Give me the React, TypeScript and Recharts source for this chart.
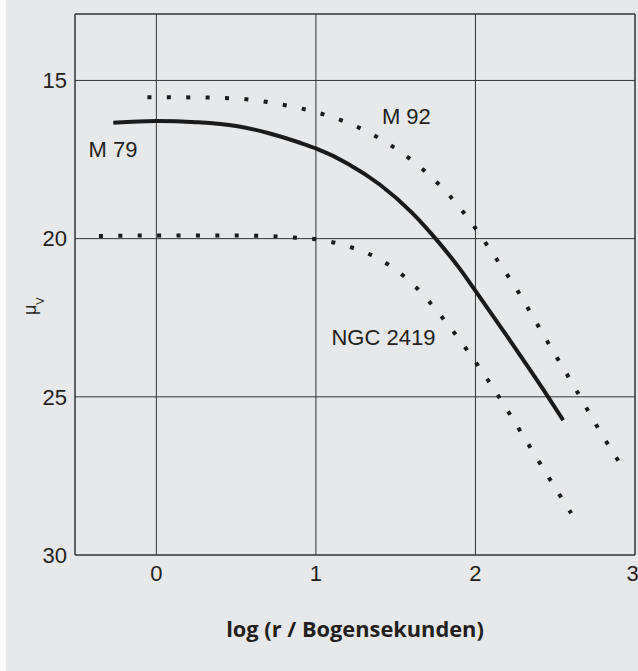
import React from "react";
import {
  LineChart,
  Line,
  XAxis,
  YAxis,
  CartesianGrid,
  ReferenceLine,
  ReferenceDot,
} from "recharts";

// log(r / arcsec) vs surface brightness mu_V
const m79X = [-0.27, 0, 0.25, 0.5, 0.7, 0.9, 1.0, 1.2, 1.4, 1.6, 1.75, 1.9, 2.0, 2.2, 2.45, 2.55];
const m79Y = [16.34, 16.28, 16.32, 16.44, 16.66, 16.97, 17.15, 17.63, 18.29, 19.17, 20.0, 20.94, 21.65, 23.1, 24.96, 25.74];

const m92X = [-0.056, 0.308, 0.551, 0.793, 1.026, 1.256, 1.469, 1.663, 1.836, 1.988, 2.126, 2.258, 2.384, 2.507, 2.633, 2.752, 2.895];
const m92Y = [15.53, 15.54, 15.59, 15.77, 16.04, 16.46, 17.05, 17.78, 18.63, 19.59, 20.6, 21.6, 22.68, 23.73, 24.8, 25.85, 27.02];

const ngcX = [-0.36, 0, 0.5, 0.85, 1.0, 1.218, 1.438, 1.628, 1.787, 1.936, 2.07, 2.202, 2.329, 2.457, 2.6];
const ngcY = [19.92, 19.9, 19.9, 19.96, 20.02, 20.27, 20.77, 21.54, 22.46, 23.44, 24.41, 25.44, 26.48, 27.53, 28.68];

const xTicks = [0, 1, 2, 3];
const yTicks = [15, 20, 25, 30];

const seriesLabels = ["M 79", "M 92", "NGC 2419"];
const labelX = [-0.272, 1.567, 1.423];
const labelY = [17.17, 16.13, 23.12];

const X_MIN = -0.51;
const X_MAX = 3;
const Y_MIN = 12.9;
const Y_MAX = 30;

const zip = (xs: number[], ys: number[]) => xs.map((x, i) => ({ x, y: ys[i] }));
const m79 = zip(m79X, m79Y);
const m92 = zip(m92X, m92Y);
const ngc = zip(ngcX, ngcY);

const INK = "#231f20";
const FONT = "'Liberation Sans', Arial, Helvetica, sans-serif";

const TextLabel = (props: any) => {
  const { viewBox, value } = props;
  const cx = viewBox.x + (viewBox.width || 0) / 2;
  const cy = viewBox.y + (viewBox.height || 0) / 2;
  return (
    <text
      x={cx}
      y={cy}
      textAnchor="middle"
      dominantBaseline="central"
      fontFamily={FONT}
      fontSize={22}
      fill={INK}
    >
      {value}
    </text>
  );
};

const YLabel = () => (
  <text transform="translate(30,315) rotate(-90)" fontFamily={FONT} fill={INK}>
    <tspan fontSize={18}>μ</tspan>
    <tspan fontSize={11} dy={8}>V</tspan>
  </text>
);

const XLabel = (props: any) => {
  const { viewBox } = props;
  const cx = viewBox.x + viewBox.width / 2;
  return (
    <text
      x={cx}
      y={637}
      textAnchor="middle"
      fontFamily="'Open Sans', 'Noto Sans', sans-serif"
      fontWeight={700}
      fontSize={21.8}
      fill={INK}
    >
      log (r / Bogensekunden)
    </text>
  );
};

export default function App() {
  return (
    <div
      style={{
        position: "absolute",
        left: 6,
        top: 0,
        width: 632,
        height: 671,
        background: "#e7e8ea",
      }}
    >
      <LineChart
        width={632}
        height={671}
        margin={{ top: 14, right: 3, bottom: 0, left: 9 }}
      >
        <CartesianGrid stroke="#333" strokeWidth={1} />
        <XAxis
          type="number"
          dataKey="x"
          domain={[X_MIN, X_MAX]}
          ticks={xTicks}
          allowDataOverflow
          height={116}
          tickLine={false}
          tickMargin={4}
          axisLine={{ stroke: "#333" }}
          tick={{ fill: INK, fontSize: 22, fontFamily: FONT }}
          label={<XLabel />}
        />
        <YAxis
          type="number"
          dataKey="y"
          domain={[Y_MIN, Y_MAX]}
          reversed
          ticks={yTicks}
          allowDataOverflow
          width={60}
          tickLine={false}
          axisLine={{ stroke: "#333" }}
          tick={{ fill: INK, fontSize: 22, fontFamily: FONT }}
          label={<YLabel />}
        />
        <ReferenceLine y={Y_MIN} stroke="#333" strokeWidth={1} />
        <ReferenceLine x={X_MAX} stroke="#333" strokeWidth={1} />
        <Line
          data={m79}
          dataKey="y"
          type="monotone"
          stroke="#1a1a1a"
          strokeWidth={4}
          dot={false}
          activeDot={false}
          isAnimationActive={false}
        />
        <Line
          data={m92}
          dataKey="y"
          type="monotone"
          stroke="#1a1a1a"
          strokeWidth={4}
          strokeDasharray="4 15.4"
          dot={false}
          activeDot={false}
          isAnimationActive={false}
        />
        <Line
          data={ngc}
          dataKey="y"
          type="monotone"
          stroke="#1a1a1a"
          strokeWidth={4}
          strokeDasharray="4 15.4"
          dot={false}
          activeDot={false}
          isAnimationActive={false}
        />
        {seriesLabels.map((s, i) => (
          <ReferenceDot
            key={s}
            x={labelX[i]}
            y={labelY[i]}
            r={0}
            fill="none"
            stroke="none"
            label={<TextLabel value={s} />}
          />
        ))}
      </LineChart>
    </div>
  );
}
